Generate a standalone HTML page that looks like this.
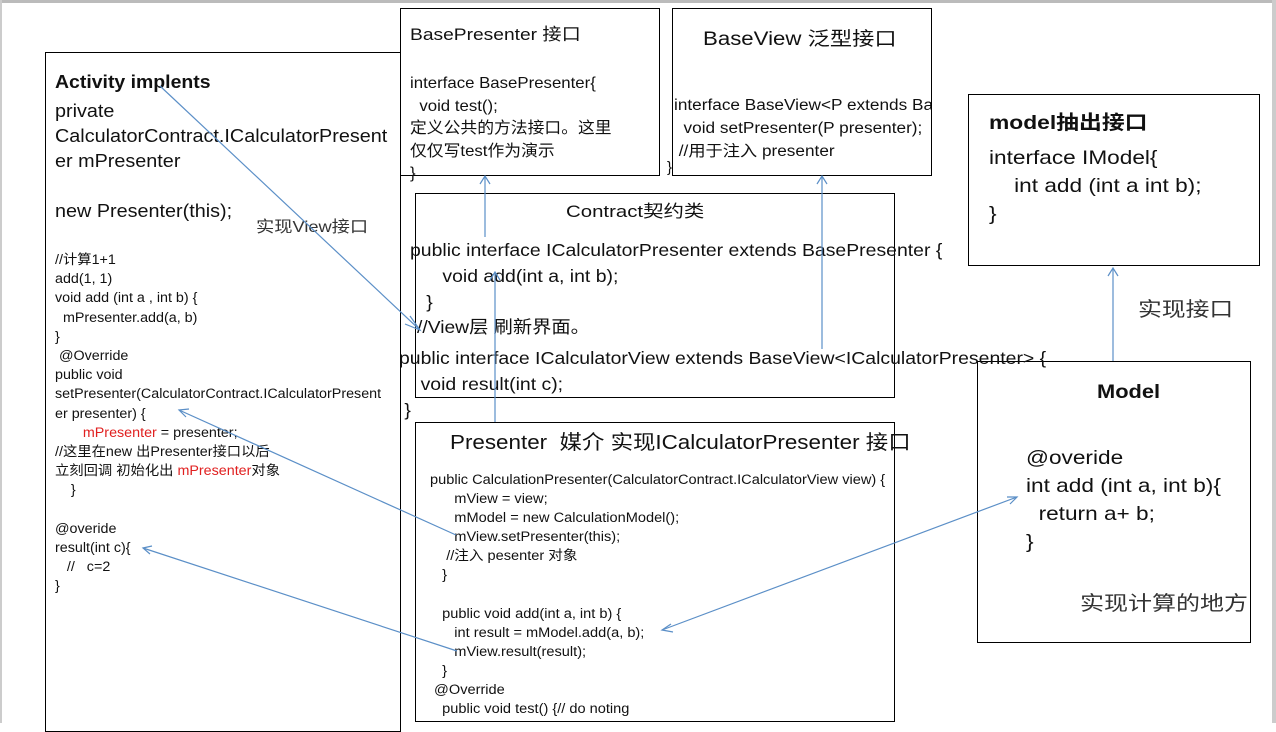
<!DOCTYPE html>
<html><head><meta charset="utf-8"><style>
body{margin:0;width:1276px;height:723px;position:relative;background:#fff;overflow:hidden;font-family:"Liberation Sans","Noto Sans CJK SC",sans-serif;color:#111}
.b{position:absolute;border:1px solid #000;box-sizing:border-box;background:#fff}
.t{position:absolute;white-space:pre;line-height:1;transform-origin:0 0}
.r{color:#e02020}
</style></head><body>
<div style="position:absolute;left:0;top:0;width:1276px;height:3px;background:#bbb"></div>
<div style="position:absolute;left:0;top:0;width:2px;height:723px;background:#ccc"></div>
<div style="position:absolute;left:1272px;top:0;width:4px;height:723px;background:#ccc"></div>

<div class="b" style="left:45px;top:52px;width:356px;height:680px"></div>
<div class="b" style="left:400px;top:8px;width:260px;height:168px"></div>
<div class="b" style="left:672px;top:8px;width:260px;height:168px"></div>
<div class="b" style="left:415px;top:193px;width:480px;height:205px;background:transparent"></div>
<div class="b" style="left:415px;top:422px;width:480px;height:300px"></div>
<div class="b" style="left:968px;top:94px;width:292px;height:172px"></div>
<div class="b" style="left:977px;top:361px;width:274px;height:282px"></div>

<!-- Activity -->
<div class="t" style="left:55px;top:73px;font-size:18px;font-weight:bold;transform:scaleX(1.08)">Activity implents</div>
<div class="t" style="left:55px;top:98px;font-size:18.5px;line-height:25px;transform:scaleX(1.07)">private
CalculatorContract.ICalculatorPresent
er mPresenter

new Presenter(this);</div>
<div class="t" style="left:256px;top:220px;font-size:16px;color:#333;transform:scaleX(1.14)">实现View接口</div>
<div class="t" style="left:55px;top:250px;font-size:13.5px;line-height:19.2px;transform:scaleX(1.06)">//计算1+1
add(1, 1)
void add (int a , int b) {
  mPresenter.add(a, b)
}
 @Override
public void
setPresenter(CalculatorContract.ICalculatorPresent
er presenter) {
       <span class="r">mPresenter</span> = presenter;
//这里在new 出Presenter接口以后
立刻回调 初始化出 <span class="r">mPresenter</span>对象
    }

@overide
result(int c){
   //   c=2
}</div>

<!-- BasePresenter -->
<div class="t" style="left:410px;top:26px;font-size:17px;transform:scaleX(1.13)">BasePresenter 接口</div>
<div class="t" style="left:410px;top:73px;font-size:16px;line-height:22.5px;transform:scaleX(1.05)">interface BasePresenter{
  void test();
定义公共的方法接口。这里
仅仅写test作为演示
}</div>

<!-- BaseView -->
<div class="t" style="left:703px;top:30px;font-size:19px;transform:scaleX(1.17)">BaseView 泛型接口</div>
<div style="position:absolute;left:673px;top:94px;width:258px;height:70px;overflow:hidden"><div class="t" style="left:1px;top:0;font-size:15.5px;line-height:23px;transform:scaleX(1.11)">interface BaseView&lt;P extends BasePresenter&gt;{
  void setPresenter(P presenter);
 //用于注入 presenter</div></div>
<div class="t" style="left:667px;top:160px;font-size:15px">}</div>

<!-- Contract -->
<div class="t" style="left:566px;top:203px;font-size:17px;transform:scaleX(1.2)">Contract契约类</div>
<div class="t" style="left:410px;top:237px;font-size:17.5px;line-height:26px;transform:scaleX(1.11)">public interface ICalculatorPresenter extends BasePresenter {
      void add(int a, int b);
   }</div>
<div class="t" style="left:417px;top:319px;font-size:17.5px;transform:scaleX(1.1)">//View层 刷新界面。</div>
<div class="t" style="left:399px;top:345px;font-size:17.5px;line-height:26px;transform:scaleX(1.11)">public interface ICalculatorView extends BaseView&lt;ICalculatorPresenter&gt; {
    void result(int c);
 }</div>

<!-- Presenter -->
<div class="t" style="left:450px;top:433px;font-size:20px;transform:scaleX(1.12)">Presenter  媒介 实现ICalculatorPresenter 接口</div>
<div class="t" style="left:430px;top:470px;font-size:13.5px;line-height:19.1px;transform:scaleX(1.08)">public CalculationPresenter(CalculatorContract.ICalculatorView view) {
      mView = view;
      mModel = new CalculationModel();
      mView.setPresenter(this);
    //注入 pesenter 对象
   }

   public void add(int a, int b) {
      int result = mModel.add(a, b);
      mView.result(result);
   }
 @Override
   public void test() {// do noting</div>

<!-- Model interface -->
<div class="t" style="left:989px;top:114px;font-size:19.5px;font-weight:bold;transform:scaleX(1.17)">model抽出接口</div>
<div class="t" style="left:989px;top:144px;font-size:19.5px;line-height:28px;transform:scaleX(1.16)">interface IModel{
    int add (int a int b);
}</div>
<div class="t" style="left:1138px;top:300px;font-size:20px;color:#333;transform:scaleX(1.19)">实现接口</div>

<!-- Model -->
<div class="t" style="left:1097px;top:383px;font-size:19.5px;font-weight:bold;transform:scaleX(1.12)">Model</div>
<div class="t" style="left:1026px;top:444px;font-size:19.5px;line-height:28px;transform:scaleX(1.16)">@overide
int add (int a, int b){
  return a+ b;
}</div>
<div class="t" style="left:1080px;top:594px;font-size:20px;color:#333;transform:scaleX(1.2)">实现计算的地方</div>

<svg width="1276" height="723" style="position:absolute;left:0;top:0" fill="none" stroke="#5b8fc7" stroke-width="1.2">
<line x1="160" y1="86" x2="420" y2="330"/>
<polyline points="410,316 420,330 405,324"/>
<line x1="485" y1="237" x2="485" y2="176"/>
<polyline points="480,184 485,176 490,184"/>
<line x1="495" y1="422" x2="495" y2="272"/>
<polyline points="490,280 495,272 500,280"/>
<line x1="822" y1="349" x2="822" y2="176"/>
<polyline points="817,184 822,176 827,184"/>
<line x1="456" y1="535" x2="179" y2="410"/>
<polyline points="189,409 179,410 186,417"/>
<line x1="457" y1="651" x2="143" y2="548"/>
<polyline points="152,546 143,548 150,554"/>
<line x1="662" y1="630" x2="1017" y2="497"/>
<polyline points="671,624 662,630 673,632"/>
<polyline points="1007,497 1017,497 1010,504"/>
<line x1="1113" y1="361" x2="1113" y2="268"/>
<polyline points="1108,276 1113,268 1118,276"/>
</svg>
</body></html>
